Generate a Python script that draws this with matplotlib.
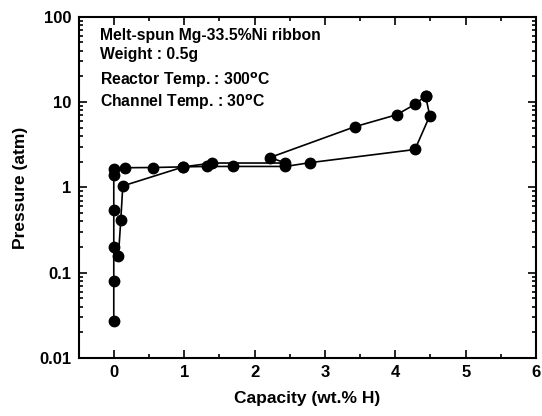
import numpy as np
import matplotlib
matplotlib.use("Agg")
import matplotlib.pyplot as plt
from matplotlib.ticker import MultipleLocator, LogLocator, NullFormatter, FixedLocator

plt.rcParams['font.family'] = ['Liberation Sans', 'DejaVu Sans']
plt.rcParams['font.weight'] = 'bold'
plt.rcParams['mathtext.default'] = 'bf'

# absorption branch (capacity wt.% H, pressure atm)
abs_cap = [0, 0, 0, 0, 0, 0, 0.16, 0.56, 0.99, 1.33, 1.70, 2.44, 2.79, 4.28, 4.49, 4.43]
abs_p = [0.027, 0.081, 0.20, 0.54, 1.40, 1.66, 1.70, 1.71, 1.74, 1.76, 1.76, 1.76, 1.95, 2.78, 6.9, 11.8]

# desorption branch
des_cap = [4.43, 4.28, 4.02, 3.43, 2.22, 2.44, 1.40, 0.99, 0.128, 0.10, 0.066]
des_p = [11.8, 9.4, 7.1, 5.15, 2.24, 1.93, 1.93, 1.74, 1.04, 0.42, 0.158]

info = ["Melt-spun Mg-33.5%Ni ribbon",
        "Weight : 0.5g",
        r"Reactor Temp. : 300$^{\rm o}$C",
        r"Channel Temp. : 30$^{\rm o}$C"]

fig = plt.figure(figsize=(5.42, 4.16), dpi=100)
ax = fig.add_axes([0.145, 0.139, 0.844, 0.821])

ax.plot(abs_cap, abs_p, '-o', color='black', lw=1.2, ms=7.5)
ax.plot(des_cap, des_p, '-o', color='black', lw=1.2, ms=7.5)

ax.set_yscale('log')
ax.set_xlim(-0.5, 6)
ax.set_ylim(0.01, 100)
ax.xaxis.set_major_locator(MultipleLocator(1))
ax.xaxis.set_minor_locator(MultipleLocator(0.5))
ax.yaxis.set_major_locator(FixedLocator([0.01, 0.1, 1, 10, 100]))
ax.yaxis.set_minor_locator(LogLocator(base=10, subs=np.arange(2, 10)))
ax.yaxis.set_minor_formatter(NullFormatter())
ax.set_yticklabels(['0.01', '0.1', '1', '10', '100'])

ax.tick_params(which='both', direction='in', top=True, right=True, width=1.2)
ax.tick_params(which='major', length=6, labelsize=12, pad=5)
ax.tick_params(which='minor', length=3)
for s in ax.spines.values():
    s.set_linewidth(1.5)

ax.set_xlabel('Capacity (wt.% H)', fontsize=12.5, fontweight='bold', labelpad=8)
ax.set_ylabel('Pressure (atm)', fontsize=12.5, fontweight='bold', labelpad=8)

ys = [0.946, 0.888, 0.815, 0.750]
for t, y in zip(info, ys):
    ax.text(0.047, y, t, transform=ax.transAxes, fontsize=11.3, fontweight='bold', va='center')

fig.savefig('out.png', dpi=100)
